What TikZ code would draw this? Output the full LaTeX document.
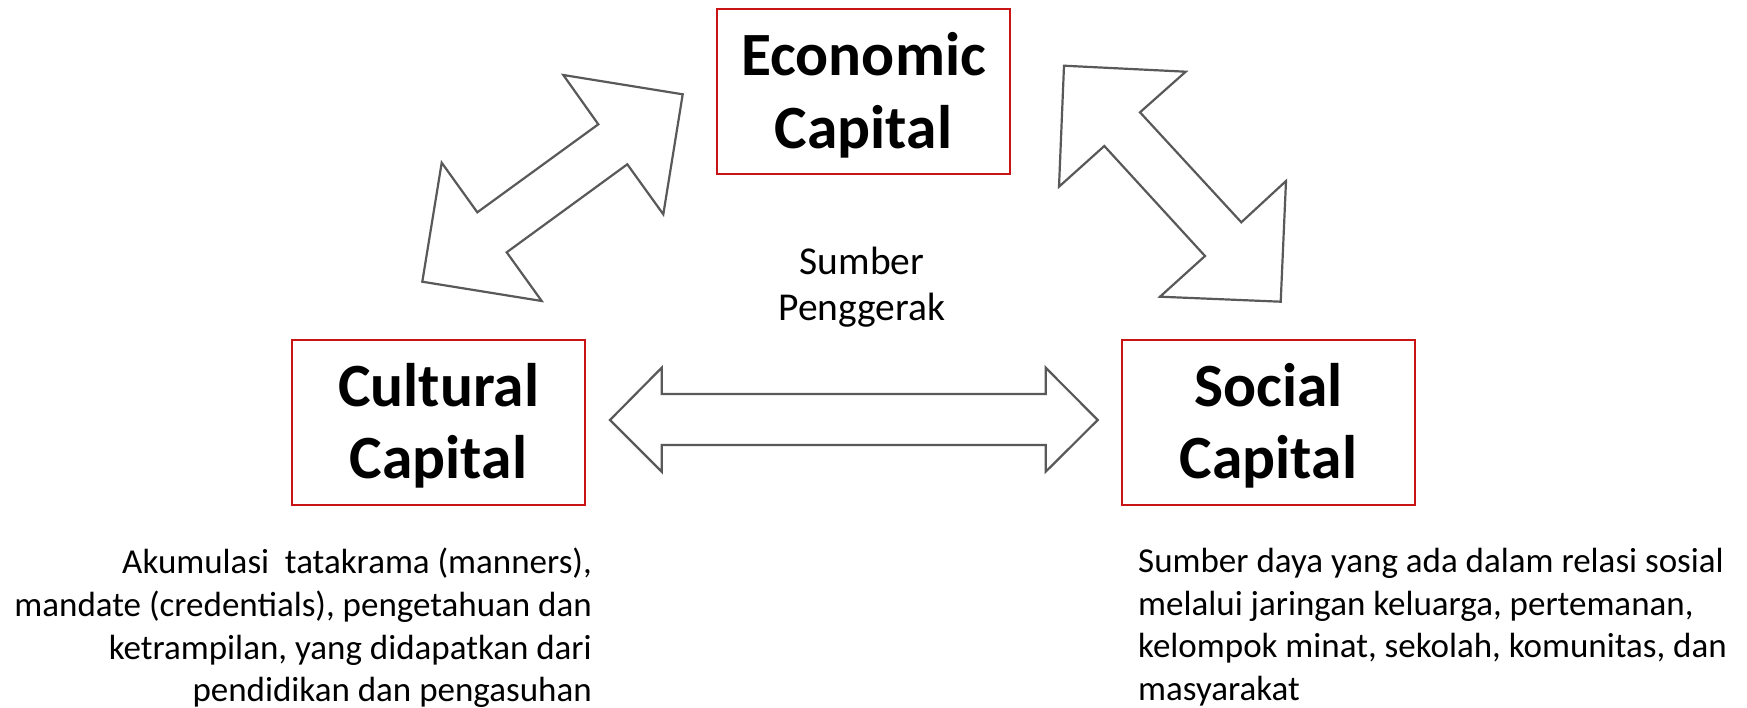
\documentclass[tikz,border=0pt]{standalone}
\usepackage{fontspec}
\setmainfont{Carlito}
\definecolor{boxred}{RGB}{200,20,20}
\definecolor{arrowgray}{RGB}{89,89,89}
\begin{document}
\begin{tikzpicture}[x=1pt,y=-1pt,
  capbox/.style={draw=boxred, line width=1.7pt, minimum width=293pt, minimum height=165pt, inner sep=0pt, align=center, font=\bfseries\fontsize{61.5}{72.5}\selectfont},
  blockarrow/.style={draw=arrowgray, line width=2.2pt, fill=white, line join=miter},
  desc/.style={font=\fontsize{35}{42.6}\selectfont, inner sep=0pt}]
\useasboundingbox (0,0) rectangle (1747,707);
% boxes
\node[capbox] (eco) at (863.5,91.5) {};
\node[capbox] (cul) at (438.5,422.5) {};
\node[capbox] (soc) at (1268.5,422.5) {};
\node[capbox, draw=none] (ecot) at (863.5,95.5) {Economic\\Capital};
\node[capbox, draw=none] (cult) at (438.5,426) {Cultural\\Capital};
\node[capbox, draw=none] (soct) at (1268.5,426) {Social\\Capital};
% centre label
\node[font=\fontsize{39.5}{46}\selectfont, align=center, inner sep=0pt] (src) at (862,287) {Sumber\\Penggerak};
% descriptions
\node[desc, align=right, anchor=north east] (culdesc) at (592,548) {Akumulasi\ \ tatakrama (manners),\\mandate (credentials), pengetahuan dan\\ketrampilan, yang didapatkan dari\\pendidikan dan pengasuhan};
\node[desc, align=left, anchor=north west] (socdesc) at (1138,548) {Sumber daya yang ada dalam relasi sosial\\melalui jaringan keluarga, pertemanan,\\kelompok minat, sekolah, komunitas, dan\\masyarakat};
% block arrows
\draw[blockarrow] (563.3,75) -- (682.7,94.3) -- (663.3,214.3) -- (627.3,164.3) -- (506.7,252.3) -- (541.7,301) -- (422.3,281.7) -- (441.7,162.7) -- (477.3,212.3) -- (598.3,124.3) -- cycle;
\draw[blockarrow] (1064,65.7) -- (1185.7,71.7) -- (1140,112.3) -- (1241.3,222.3) -- (1286,181) -- (1280.7,301.7) -- (1160,296.7) -- (1205,256) -- (1104.3,146) -- (1059,186.7) -- cycle;
\draw[blockarrow] (610,420) -- (661.7,367.7) -- (661.7,394) -- (1045.7,394) -- (1045.7,367.7) -- (1097.7,420) -- (1045.7,471.7) -- (1045.7,445) -- (661.7,445) -- (661.7,471.7) -- cycle;
\end{tikzpicture}
\end{document}
